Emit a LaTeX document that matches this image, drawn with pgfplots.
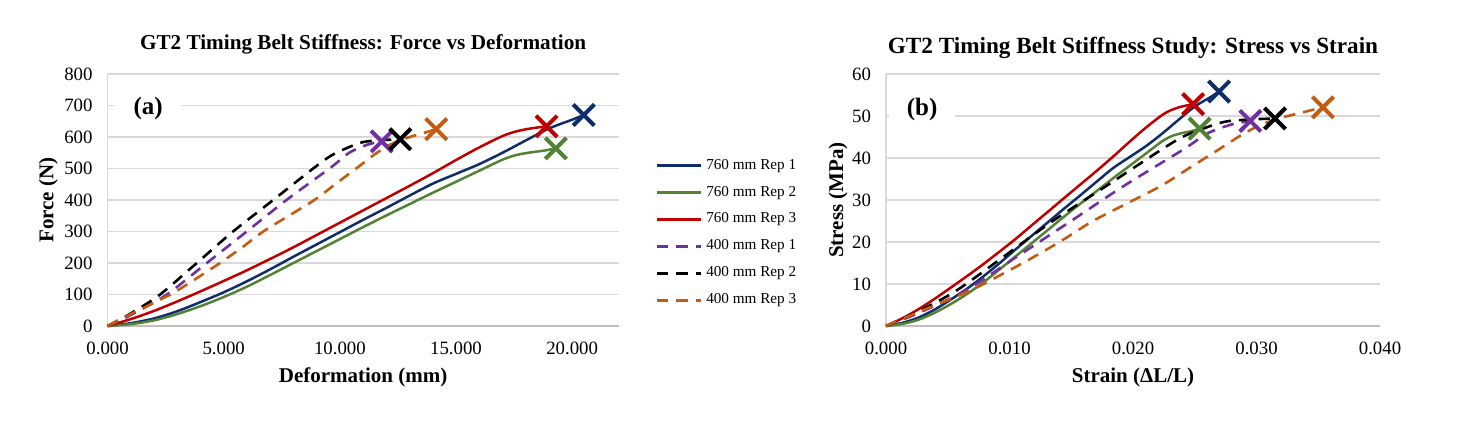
\documentclass[border=0pt]{standalone}
\usepackage{fontspec}
\setmainfont{Liberation Serif}
\usepackage{pgfplots}
\usepackage{pgfplotstable}
\pgfplotsset{compat=1.18}

\definecolor{cBlue}{HTML}{0F2D69}
\definecolor{cGreen}{HTML}{548235}
\definecolor{cRed}{HTML}{C00000}
\definecolor{cPurple}{HTML}{7030A0}
\definecolor{cOrange}{HTML}{C55A11}
\definecolor{cGrid}{HTML}{D9D9D9}
\definecolor{cAxis}{HTML}{BFBFBF}

% ---- Force vs deformation (mm, N) ----
\pgfplotstableread{
d F
0 0
1 9
2 24
3 47
4 76
5 107
6 142
7 180
8 220
9 259
10 298
11 337
12 375
13 414
14 452
15 483
16 514
17 550
18 589
19 627
20 655
20.5 670
}\Ablue
\pgfplotstableread{
d F
0 0
1 6
2 18
3 38
4 63
5 92
6 125
7 162
8 200
9 238
10 276
11 314
12 351
13 387
14 423
15 458
16 493
17 528
17.6 543
18.2 551
18.8 557
19.3 564
}\Agreen
\pgfplotstableread{
d F
0 0
1 22
2 48
3 78
4 110
5 143
6 177
7 213
8 250
9 289
10 328
11 367
12 406
13 445
14 485
15 527
16 567
17 603
17.6 618
18.2 627
18.9 634
}\Ared
\pgfplotstableread{
d F
0 0
1 35
2.55 100
4.27 200
5.99 300
7.7 400
9.64 505
10.4 550
11.2 576
11.8 586
}\Apurple
\pgfplotstableread{
d F
0 0
1 40
2.26 100
3.84 200
5.4 300
7.13 400
8.85 500
9.6 540
10.3 565
11.0 584
11.8 590
12.6 593
}\Ablack
\pgfplotstableread{
d F
0 0
1 38
2.7 100
3.8 150
4.84 200
5.8 250
6.7 300
7.8 350
8.9 400
9.8 450
10.7 500
11.5 545
12.14 575
12.8 595
13.43 609
14.15 625
}\Aorange

% ---- Stress vs strain (-, MPa) ----
\pgfplotstableread{
s S
0 0
0.00132 0.75
0.00263 2.00
0.00395 3.92
0.00526 6.33
0.00658 8.92
0.00789 11.83
0.00921 15.00
0.01053 18.33
0.01184 21.58
0.01316 24.83
0.01447 28.08
0.01579 31.25
0.01711 34.50
0.01842 37.67
0.01974 40.25
0.02105 42.83
0.02237 45.83
0.02368 49.08
0.02500 52.25
0.02632 54.58
0.02697 55.83
}\Bblue
\pgfplotstableread{
s S
0 0
0.00132 0.50
0.00263 1.50
0.00395 3.17
0.00526 5.25
0.00658 7.67
0.00789 10.42
0.00921 13.50
0.01053 16.67
0.01184 19.83
0.01316 23.00
0.01447 26.17
0.01579 29.25
0.01711 32.25
0.01842 35.25
0.01974 38.17
0.02105 41.08
0.02237 44.00
0.02316 45.25
0.02395 45.92
0.02474 46.42
0.02539 47.00
}\Bgreen
\pgfplotstableread{
s S
0 0
0.00132 1.83
0.00263 4.00
0.00395 6.50
0.00526 9.17
0.00658 11.92
0.00789 14.75
0.00921 17.75
0.01053 20.83
0.01184 24.08
0.01316 27.33
0.01447 30.58
0.01579 33.83
0.01711 37.08
0.01842 40.42
0.01974 43.92
0.02105 47.25
0.02237 50.25
0.02316 51.50
0.02395 52.25
0.02487 52.83
}\Bred
\pgfplotstableread{
s S
0 0
0.0025 2.92
0.00638 8.33
0.01068 16.67
0.01498 25.00
0.01925 33.33
0.0241 42.08
0.026 45.83
0.028 48.00
0.0295 48.83
}\Bpurple
\pgfplotstableread{
s S
0 0
0.0025 3.33
0.00565 8.33
0.0096 16.67
0.0135 25.00
0.01783 33.33
0.02213 41.67
0.024 45.00
0.02575 47.08
0.0275 48.67
0.0295 49.17
0.0315 49.42
}\Bblack
\pgfplotstableread{
s S
0 0
0.0025 3.17
0.00675 8.33
0.0095 12.50
0.0121 16.67
0.0145 20.83
0.01675 25.00
0.0195 29.17
0.02225 33.33
0.0245 37.50
0.02675 41.67
0.02875 45.42
0.03035 47.92
0.032 49.58
0.03358 50.75
0.03538 52.08
}\Borange

\pgfplotsset{
  belt/.style={
    scale only axis,
    clip=false,
    axis x line*=bottom,
    axis y line*=left,
    axis line style={cAxis, line width=0.8pt},
    x axis line style={-},
    y axis line style={-, cGrid, line width=0.6pt},
    ymajorgrids,
    grid style={cGrid, line width=0.6pt},
    major tick length=0pt,
    tick label style={font=\fontsize{9.4}{11}\selectfont},
    yticklabel style={xshift=-4pt},
    xticklabel style={yshift=-4.5pt},
    /pgf/number format/assume math mode=true,
    label style={font=\bfseries\fontsize{10.5}{12}\selectfont},
    title style={at={(axis description cs:0.5,1)}, anchor=center},
    xlabel style={at={(axis description cs:0.5,0)}, anchor=center, yshift=-25.5pt},
    ymin=0,
  },
  sol/.style={line width=1.25pt, smooth, tension=0.5},
  das/.style={line width=1.3pt, smooth, tension=0.5, dash pattern=on 5.8pt off 4pt},
  xm/.style={mark=x, mark size=7.5pt, line width=2pt, only marks, forget plot},
}

\begin{document}
\begin{tikzpicture}
\useasboundingbox (0,0) rectangle (740pt,210pt);

\begin{axis}[belt,
  at={(53.8pt,47pt)}, anchor=south west,
  width=255.5pt, height=126pt,
  xmin=0, xmax=22, ymax=800,
  xtick={0,5,10,15,20}, ytick={0,100,...,800},
  xticklabel style={/pgf/number format/.cd, fixed, fixed zerofill, precision=3},
  scaled x ticks=false,
  title={GT2 Timing Belt Stiffness: Force vs Deformation},
  title style={font=\bfseries\fontsize{10.6}{12}\selectfont, yshift=8.8pt},
  xlabel={Deformation (mm)},
  ylabel={Force (N)},
  ylabel style={at={(axis description cs:0,0.5)}, anchor=center, yshift=29.6pt},
  legend style={draw=none, fill=none, at={(1.071,0.68)}, anchor=north west,
    font=\fontsize{7.6}{9}\selectfont, row sep=2.9pt, inner sep=0pt,
    /tikz/every even column/.style={column sep=0pt}},
  legend cell align=left,
  legend image code/.code={\draw[#1, line width=1.5pt] (0pt,0pt) -- (22pt,0pt);},
]
\addplot[sol, cBlue] table[x=d,y=F] {\Ablue};
\addlegendentry{760 mm Rep 1}
\addplot[sol, cGreen] table[x=d,y=F] {\Agreen};
\addlegendentry{760 mm Rep 2}
\addplot[sol, cRed] table[x=d,y=F] {\Ared};
\addlegendentry{760 mm Rep 3}
\addplot[das, cPurple] table[x=d,y=F] {\Apurple};
\addlegendentry{400 mm Rep 1}
\addplot[das, black] table[x=d,y=F] {\Ablack};
\addlegendentry{400 mm Rep 2}
\addplot[das, cOrange] table[x=d,y=F] {\Aorange};
\addlegendentry{400 mm Rep 3}
\addplot[xm, cBlue] coordinates {(20.5,670)};
\addplot[xm, cGreen] coordinates {(19.3,564)};
\addplot[xm, cRed] coordinates {(18.9,634)};
\addplot[xm, cPurple] coordinates {(11.8,586)};
\addplot[xm, black] coordinates {(12.6,593)};
\addplot[xm, cOrange] coordinates {(14.15,625)};
\node[fill=white, inner sep=0pt, minimum width=33pt, minimum height=12pt,
  font=\bfseries\fontsize{12.5}{14}\selectfont] at (axis cs:1.75,692) {(a)};
\end{axis}

\begin{axis}[belt,
  at={(443pt,47pt)}, anchor=south west,
  width=247pt, height=126pt,
  xmin=0, xmax=0.04, ymax=60,
  xtick={0,0.01,0.02,0.03,0.04}, ytick={0,10,...,60},
  xticklabel style={/pgf/number format/.cd, fixed, fixed zerofill, precision=3},
  scaled x ticks=false,
  title={GT2 Timing Belt Stiffness Study: Stress vs Strain},
  title style={font=\bfseries\fontsize{11.6}{13}\selectfont, yshift=7.1pt},
  xlabel={Strain (ΔL/L)},
  ylabel={Stress (MPa)},
  ylabel style={at={(axis description cs:0,0.5)}, anchor=center, yshift=24pt},
]
\addplot[sol, cBlue] table[x=s,y=S] {\Bblue};
\addplot[sol, cGreen] table[x=s,y=S] {\Bgreen};
\addplot[sol, cRed] table[x=s,y=S] {\Bred};
\addplot[das, cPurple] table[x=s,y=S] {\Bpurple};
\addplot[das, black] table[x=s,y=S] {\Bblack};
\addplot[das, cOrange] table[x=s,y=S] {\Borange};
\addplot[xm, cBlue] coordinates {(0.02697,55.83)};
\addplot[xm, cGreen] coordinates {(0.02539,47.0)};
\addplot[xm, cRed] coordinates {(0.02487,52.83)};
\addplot[xm, cPurple] coordinates {(0.0295,48.83)};
\addplot[xm, black] coordinates {(0.0315,49.42)};
\addplot[xm, cOrange] coordinates {(0.03538,52.08)};
\node[fill=white, inner sep=0pt, minimum width=33pt, minimum height=12pt,
  font=\bfseries\fontsize{12.5}{14}\selectfont] at (axis cs:0.00292,51.5) {(b)};
\end{axis}
\end{tikzpicture}
\end{document}
